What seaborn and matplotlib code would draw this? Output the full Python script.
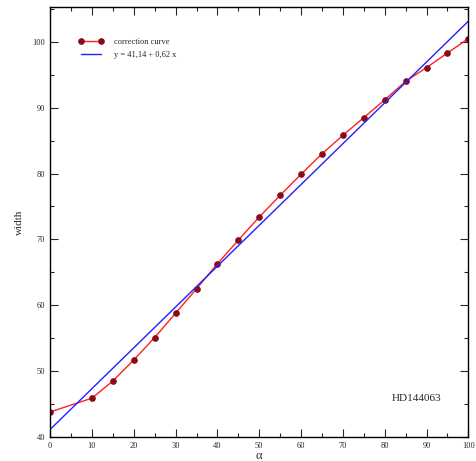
import matplotlib
matplotlib.use("Agg")
import matplotlib.pyplot as plt
import seaborn as sns
import pandas as pd
from matplotlib.ticker import MultipleLocator

alpha_vals = [0, 10, 15, 20, 25, 30, 35, 40, 45, 50, 55, 60, 65, 70, 75, 80, 85, 90, 95, 100]
width_vals = [43.8, 45.9, 48.5, 51.7, 55.1, 58.8, 62.5, 66.3, 69.9, 73.4, 76.7, 79.9,
              83.0, 85.8, 88.5, 91.2, 94.0, 96.1, 98.3, 100.5]
fit_x = [0, 100]
fit_y = [41.14, 103.14]
xticks = [0, 10, 20, 30, 40, 50, 60, 70, 80, 90, 100]
yticks = [40, 50, 60, 70, 80, 90, 100]

sns.set_style("ticks")
plt.rcParams['font.family'] = ['Liberation Serif', 'DejaVu Serif']

fig = plt.figure(figsize=(4.77, 4.61), dpi=100)
ax = fig.add_axes([0.105, 0.052, 0.877, 0.933])

df = pd.DataFrame({"alpha": alpha_vals, "width": width_vals})
fit = pd.DataFrame({"alpha": fit_x, "width": fit_y})

sns.lineplot(data=df, x="alpha", y="width", ax=ax, color="#ff2020", lw=1.0,
             marker="o", markersize=4, markerfacecolor="#8b0a1a",
             markeredgecolor="#8b0a1a", label="correction curve")
sns.lineplot(data=fit, x="alpha", y="width", ax=ax, color="#2020ff", lw=1.0,
             label="y = 41,14 + 0,62 x")

ax.set_xlim(0, 100)
ax.set_ylim(40, 105.3)
ax.set_xticks(xticks)
ax.set_yticks(yticks)
ax.xaxis.set_minor_locator(MultipleLocator(5))
ax.yaxis.set_minor_locator(MultipleLocator(5))
ax.tick_params(which="both", direction="in", top=True, right=True, labelsize=6, width=0.8)
ax.tick_params(which="major", length=6)
ax.tick_params(which="minor", length=3)
for s in ax.spines.values():
    s.set_linewidth(1.0)
    s.set_color("black")

ax.set_xlabel("α", fontsize=9, labelpad=0)
ax.set_ylabel("width", fontsize=8, labelpad=6)

ax.text(0.935, 0.09, "HD144063", transform=ax.transAxes, fontsize=8, ha="right", va="center")

leg = ax.legend(loc="upper left", bbox_to_anchor=(0.05, 0.945), frameon=False, fontsize=6,
                handlelength=3, handletextpad=1.2, labelspacing=0.6, numpoints=2)

fig.savefig("out.png", dpi=100)
